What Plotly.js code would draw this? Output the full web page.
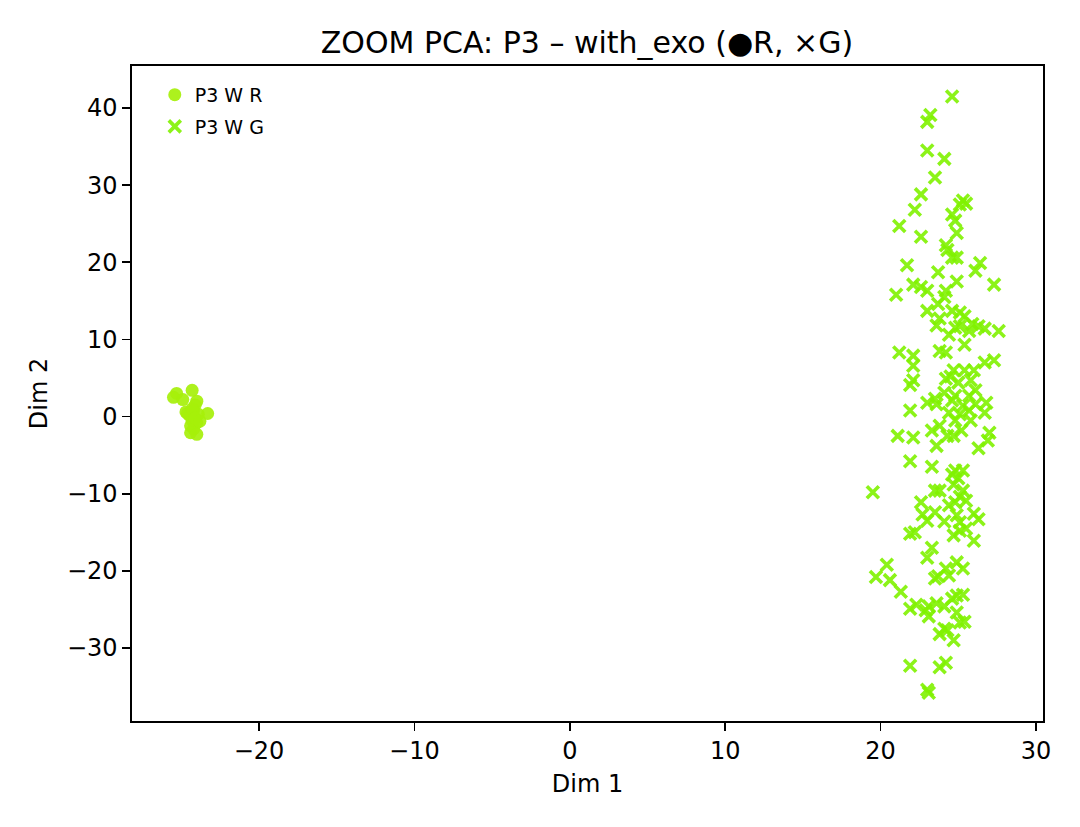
<!DOCTYPE html>
<html>
<head>
<meta charset="utf-8">
<script src="https://cdn.plot.ly/plotly-3.0.1.min.js"></script>
<style>
  body { margin: 0; background: #fff; }
  #plot { width: 1080px; height: 827px; }
</style>
</head>
<body>
<div id="plot"></div>
<script>
// P3 W R (circles) – tight cluster near (-24, 0)
var r_x = [-25.3, -25.5, -24.3, -24.9, -24.0, -24.1, -24.7, -24.5, -24.2, -23.9, -23.3,
           -24.3, -24.0, -24.4, -24.2, -24.4, -24.0, -24.6, -24.3, -24.1, -23.8];
var r_y = [3.0, 2.5, 3.4, 2.2, 2.0, 1.5, 0.6, 0.2, 0.8, 0.3, 0.4,
           -0.5, -0.8, -1.2, -1.6, -2.1, -2.3, 0.4, 1.0, -0.2, -0.6];

// P3 W G (crosses) – tall column near x = 24
var g_x = [24.6, 23.2, 23.0, 23.0, 24.1, 23.5, 22.6, 25.3, 25.5, 25.1, 21.2, 22.2, 24.6, 24.8, 24.9,
           22.6, 24.2, 24.3, 24.6, 24.9, 26.4, 26.1, 21.7, 23.7, 22.1, 22.6, 23.0, 24.9, 27.3, 24.2,
           24.1, 21.0, 23.7, 23.0, 24.6, 25.1, 25.4, 23.6, 23.8, 24.8, 25.1, 25.7, 25.9, 26.3, 26.7,
           27.6, 24.4, 25.4, 21.2, 22.1, 23.8, 24.2, 26.7, 27.3, 22.1, 24.7, 25.4, 26.0, 24.2, 24.5,
           21.9, 22.1, 25.0, 25.8, 23.5, 24.1, 24.8, 25.7, 26.1, 23.6, 24.6, 25.3, 26.1, 26.8, 21.9,
           23.0, 24.4, 25.1, 25.7, 26.7, 24.8, 25.8, 23.8, 23.3, 25.2, 22.1, 21.1, 27.0, 26.9, 24.3,
           24.7, 26.3, 23.6, 21.9, 23.3, 24.8, 25.3, 24.6, 25.0, 24.7, 19.5, 23.5, 23.8, 25.1, 25.3,
           24.4, 24.8, 25.5, 22.6, 22.7, 23.5, 24.9, 26.0, 26.3, 23.0, 25.1, 24.1, 22.2, 21.9, 24.7,
           25.1, 25.5, 26.0, 23.3, 23.0, 20.4, 24.9, 25.3, 24.2, 19.7, 20.6, 23.7, 23.5, 24.4, 21.3,
           25.3, 24.6, 24.9, 21.9, 22.3, 23.1, 22.9, 23.6, 24.1, 24.9, 23.1, 25.1, 25.4, 24.1, 24.3,
           23.8, 24.7, 21.9, 24.2, 23.8, 23.0, 23.1];
var g_y = [41.5, 39.1, 38.2, 34.5, 33.4, 31.0, 28.8, 28.0, 27.6, 27.5, 24.7, 26.8, 26.2, 25.4, 23.8,
           23.3, 22.2, 21.6, 20.6, 20.6, 19.9, 18.9, 19.6, 18.7, 17.1, 16.8, 16.3, 17.5, 17.1, 16.3,
           15.5, 15.8, 14.6, 13.7, 13.7, 13.5, 13.0, 11.8, 12.7, 11.5, 11.7, 11.1, 12.0, 11.7, 11.4,
           11.1, 10.6, 9.3, 8.3, 7.9, 8.5, 8.3, 7.0, 7.3, 6.6, 6.0, 6.0, 6.0, 4.9, 5.2,
           4.1, 4.7, 4.4, 4.7, 2.3, 3.1, 2.7, 2.7, 3.4, 1.6, 2.1, 1.4, 1.6, 1.8, 0.8,
           1.8, 0.5, 0.3, 0.8, 0.5, -0.5, -0.5, -1.2, -1.8, -1.8, -2.7, -2.5, -2.1, -3.1, -2.5,
           -2.5, -4.1, -3.8, -5.8, -6.5, -7.0, -7.0, -7.5, -8.0, -8.8, -9.8, -9.6, -9.6, -10.4, -9.6,
           -11.5, -11.1, -10.9, -11.1, -12.7, -12.4, -12.8, -12.6, -13.3, -13.5, -13.7, -13.6, -15.0, -15.2, -15.4,
           -14.8, -14.5, -16.1, -17.0, -18.3, -19.2, -18.9, -19.7, -19.7, -20.8, -21.2, -20.7, -21.0, -20.6, -22.7,
           -23.1, -23.6, -23.2, -24.9, -24.4, -24.6, -25.1, -24.2, -24.6, -25.4, -25.9, -26.7, -26.6, -27.5, -27.7,
           -28.2, -29.0, -32.3, -31.9, -32.5, -35.4, -35.8];

var font = 'DejaVu Sans, sans-serif';

var r_trace = {
   name: 'P3 W R',
   x: r_x,
   y: r_y,
   type: 'scatter',
   mode: 'markers',
   legendgroup: 'r',
   marker: {symbol: 'circle', size: 13, color: '#a6f00a', opacity: 0.92, line: {width: 0}}
};
var g_trace = {
   name: 'P3 W G',
   x: g_x,
   y: g_y,
   type: 'scatter',
   mode: 'markers',
   legendgroup: 'g',
   marker: {symbol: 'x-thin-open', size: 12, color: '#7ff200', opacity: 0.9,
            line: {width: 3.6, color: '#7ff200'}}
};

var axis_common = {
   showgrid: false,
   zeroline: false,
   showline: true,
   linecolor: '#000',
   linewidth: 1.6,
   mirror: true,
   ticks: 'outside',
   ticklen: 8,
   tickwidth: 1.6,
   tickcolor: '#000',
   tickfont: {family: font, size: 24, color: '#000'}
};

var layout = {
   width: 1080,
   height: 827,
   paper_bgcolor: '#fff',
   plot_bgcolor: '#fff',
   margin: {l: 132, r: 37, t: 66, b: 106},
   title: {
      text: 'ZOOM PCA: P3 – with_exo (●R, ×G)',
      font: {family: font, size: 30, color: '#000'},
      x: 0.5435, xanchor: 'center',
      y: 0.949, yanchor: 'middle'
   },
   xaxis: Object.assign({}, axis_common, {
      range: [-28.17, 30.45],
      tickvals: [-20, -10, 0, 10, 20, 30],
      title: {text: 'Dim 1', font: {family: font, size: 24, color: '#000'}, standoff: 11}
   }),
   yaxis: Object.assign({}, axis_common, {
      range: [-39.46, 45.44],
      tickvals: [-30, -20, -10, 0, 10, 20, 30, 40],
      title: {text: 'Dim 2', font: {family: font, size: 24, color: '#000'}, standoff: 12}
   }),
   showlegend: true,
   legend: {
      x: 0.025, y: 0.985, xanchor: 'left', yanchor: 'top',
      bgcolor: 'rgba(255,255,255,0)',
      borderwidth: 0,
      font: {family: font, size: 19, color: '#000'},
      itemwidth: 30,
      tracegroupgap: 4
   }
};

Plotly.newPlot('plot', [r_trace, g_trace], layout, {displayModeBar: false, staticPlot: true});
</script>
</body>
</html>
